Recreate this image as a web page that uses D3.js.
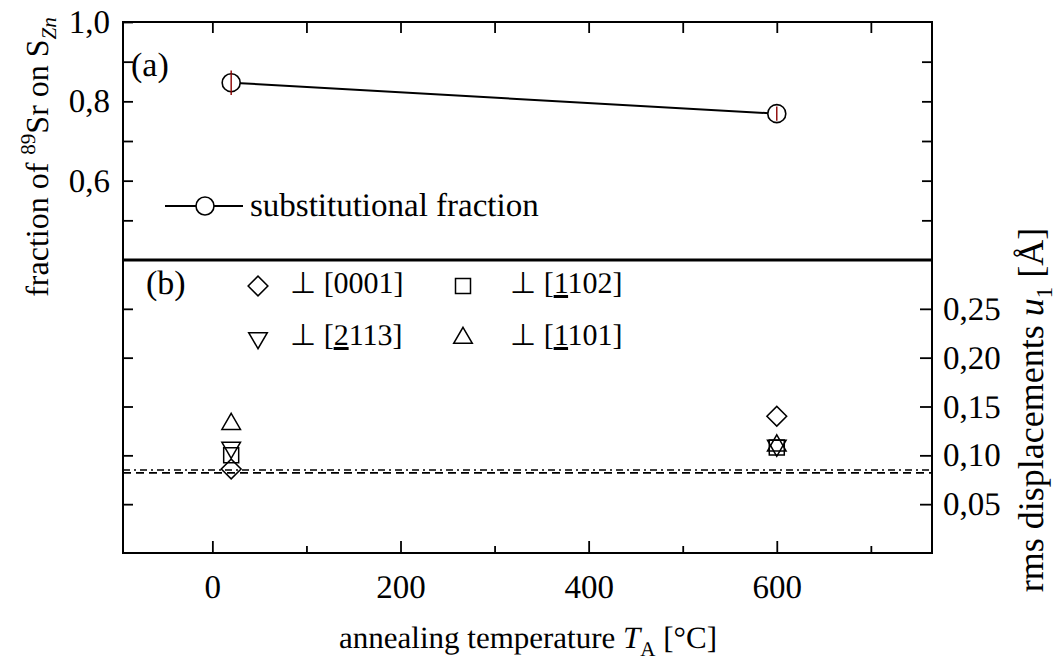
<!DOCTYPE html>
<html>
<head>
<script src="https://cdn.jsdelivr.net/npm/d3@7"></script>
<style>
  body { margin: 0; background: #fff; }
  svg { text-rendering: geometricPrecision; }
</style>
</head>
<body>
<div id="chart"></div>
<script>
// panel (a): substitutional fraction
const tempA = [20, 600];
const fracA = [0.847, 0.769];
const fracErr = [0.031, 0.018];

// panel (b): rms displacements
const tempB = [20, 600];
const u0001 = [0.086, 0.140];
const u1102 = [0.100, 0.108];
const u2113 = [0.108, 0.110];
const u1101 = [0.132, 0.110];
const refLines = [0.085, 0.082];

const xTicks = [0, 200, 400, 600];
const yTicksA = [0.6, 0.8, 1.0];
const yTicksB = [0.05, 0.10, 0.15, 0.20, 0.25];

const W = 1062, H = 669;
const L = 123, R = 932, T = 22, MID = 260, B = 553;
const FONT = "Liberation Serif";

const svg = d3.select("#chart").append("svg")
    .attr("width", W).attr("height", H);

const x = d3.scaleLinear().domain([-95, 765]).range([L, R]);
const ya = d3.scaleLinear().domain([0.4, 1.0]).range([MID, T]);
const yb = d3.scaleLinear().domain([0, 0.3]).range([B, MID]);

const comma = f => d => d3.format(f)(d).replace(".", ",");

function styleAxis(g) {
    g.attr("font-family", FONT).attr("font-size", 33);
    g.select(".domain").remove();
    g.selectAll(".tick line").attr("stroke", "#000").attr("stroke-width", 1.8);
    g.selectAll(".tick text").style("font-family", FONT).style("font-size", "33px").attr("fill", "#000");
}

// bottom axis
svg.append("g").attr("transform", `translate(0,${B})`)
    .call(d3.axisBottom(x).tickValues(xTicks).tickSize(-12).tickPadding(22).tickFormat(d3.format("d")))
    .call(styleAxis);
svg.append("g").attr("transform", `translate(0,${B})`)
    .call(d3.axisBottom(x).tickValues([100, 300, 500, 700]).tickSize(-7).tickFormat(""))
    .call(styleAxis);
// top axis
svg.append("g").attr("transform", `translate(0,${T})`)
    .call(d3.axisTop(x).tickValues(d3.range(0, 800, 100)).tickSize(-11).tickFormat(""))
    .call(styleAxis);

// panel a left/right
svg.append("g").attr("transform", `translate(${L},0)`)
    .call(d3.axisLeft(ya).tickValues(yTicksA).tickSize(-10).tickPadding(13).tickFormat(comma(".1f")))
    .call(styleAxis);
svg.append("g").attr("transform", `translate(${L},0)`)
    .call(d3.axisLeft(ya).tickValues([0.5, 0.7, 0.9]).tickSize(-10).tickFormat(""))
    .call(styleAxis);
svg.append("g").attr("transform", `translate(${R},0)`)
    .call(d3.axisRight(ya).tickValues(d3.range(0.5, 1.0, 0.1)).tickSize(-10).tickFormat(""))
    .call(styleAxis);

// panel b left/right
svg.append("g").attr("transform", `translate(${R},0)`)
    .call(d3.axisRight(yb).tickValues(yTicksB).tickSize(-12).tickPadding(11).tickFormat(comma(".2f")))
    .call(styleAxis);
svg.append("g").attr("transform", `translate(${L},0)`)
    .call(d3.axisLeft(yb).tickValues(yTicksB).tickSize(-10).tickFormat(""))
    .call(styleAxis);

// frame
svg.append("rect").attr("x", L).attr("y", T).attr("width", R - L).attr("height", B - T)
    .attr("fill", "none").attr("stroke", "#000").attr("stroke-width", 2);
svg.append("line").attr("x1", L).attr("x2", R).attr("y1", MID).attr("y2", MID)
    .attr("stroke", "#000").attr("stroke-width", 3);

// panel a data
const ptsA = tempA.map((t, i) => ({t, v: fracA[i], e: fracErr[i]}));
svg.append("path").datum(ptsA)
    .attr("d", d3.line().x(d => x(d.t)).y(d => ya(d.v)))
    .attr("fill", "none").attr("stroke", "#000").attr("stroke-width", 2);
svg.selectAll(".ptA").data(ptsA).enter().append("circle")
    .attr("cx", d => x(d.t)).attr("cy", d => ya(d.v)).attr("r", 9)
    .attr("fill", "#fff").attr("stroke", "#000").attr("stroke-width", 1.6);
svg.selectAll(".err").data(ptsA).enter().append("line")
    .attr("x1", d => x(d.t)).attr("x2", d => x(d.t))
    .attr("y1", d => ya(d.v - d.e)).attr("y2", d => ya(d.v + d.e))
    .attr("stroke", "#8b0000").attr("stroke-width", 1.4);

function txt(sel, size) {
    return sel.style("font-family", FONT).style("font-size", size + "px").attr("fill", "#000");
}

// legend a
svg.append("line").attr("x1", 165).attr("x2", 243).attr("y1", 206).attr("y2", 206)
    .attr("stroke", "#000").attr("stroke-width", 2);
svg.append("circle").attr("cx", 205).attr("cy", 206).attr("r", 9)
    .attr("fill", "#fff").attr("stroke", "#000").attr("stroke-width", 1.6);
txt(svg.append("text").attr("x", 250).attr("y", 216), 33).text("substitutional fraction");
txt(svg.append("text").attr("x", 131).attr("y", 76), 34).text("(a)");
txt(svg.append("text").attr("x", 146).attr("y", 294), 34).text("(b)");

// panel b data
const series = [
    {vals: u0001, sym: d3.symbolSquare, size: 196, rot: 45, label: ["⊥ [0001]"]},
    {vals: u1102, sym: d3.symbolSquare, size: 225, rot: 0, label: ["⊥ [", "1", "102]"]},
    {vals: u2113, sym: d3.symbolTriangle, size: 150, rot: 180, label: ["⊥ [", "2", "113]"]},
    {vals: u1101, sym: d3.symbolTriangle, size: 150, rot: 0, label: ["⊥ [", "1", "101]"]}
];

// reference lines
svg.append("line").attr("x1", L).attr("x2", R).attr("y1", yb(refLines[0])).attr("y2", yb(refLines[0]))
    .attr("stroke", "#000").attr("stroke-width", 1.6).attr("stroke-dasharray", "7,4,2,4");
svg.append("line").attr("x1", L).attr("x2", R).attr("y1", yb(refLines[1])).attr("y2", yb(refLines[1]))
    .attr("stroke", "#000").attr("stroke-width", 1.6).attr("stroke-dasharray", "8,5");

series.forEach(s => {
    svg.selectAll(null).data(s.vals).enter().append("path")
        .attr("d", d3.symbol().type(s.sym).size(s.size))
        .attr("transform", (d, i) => `translate(${x(tempB[i])},${yb(d)}) rotate(${s.rot})`)
        .attr("fill", "none").attr("stroke", "#000").attr("stroke-width", 1.5);
});

// legend b
const legX = [258, 463], legTx = [290, 510], legY = [286, 338];
series.forEach((s, i) => {
    const c = i % 2, cy = legY[Math.floor(i / 2)];
    svg.append("path").attr("d", d3.symbol().type(s.sym).size(s.size))
        .attr("transform", `translate(${legX[c]},${cy}) rotate(${s.rot})`)
        .attr("fill", "none").attr("stroke", "#000").attr("stroke-width", 1.5);
    const t = txt(svg.append("text").attr("x", legTx[c]).attr("y", cy + 7), 30);
    s.label.forEach((p, j) => {
        const sp = t.append("tspan").text(p);
        if (j === 1) sp.style("text-decoration", "underline");
    });
});

// axis titles
const ylab = txt(svg.append("text").attr("transform", "translate(48,157) rotate(-90)")
    .attr("text-anchor", "middle"), 32);
ylab.append("tspan").text("fraction of ");
ylab.append("tspan").attr("dy", -13).style("font-size", "21px").text("89");
ylab.append("tspan").attr("dy", 13).text("Sr on S");
ylab.append("tspan").attr("dy", 8).style("font-size", "21px").style("font-style", "italic").text("Zn");

const rlab = txt(svg.append("text").attr("transform", "translate(1043,410) rotate(-90)")
    .attr("text-anchor", "middle"), 36);
rlab.append("tspan").text("rms displacements ");
rlab.append("tspan").style("font-style", "italic").text("u");
rlab.append("tspan").attr("dy", 9).style("font-size", "23px").text("1");
rlab.append("tspan").attr("dy", -9).text(" [Å]");

const xlab = txt(svg.append("text").attr("x", 528).attr("y", 648)
    .attr("text-anchor", "middle"), 31);
xlab.append("tspan").text("annealing temperature ");
xlab.append("tspan").style("font-style", "italic").text("T");
xlab.append("tspan").attr("dy", 8).style("font-size", "21px").text("A");
xlab.append("tspan").attr("dy", -8).text(" [°C]");
</script>
</body>
</html>
